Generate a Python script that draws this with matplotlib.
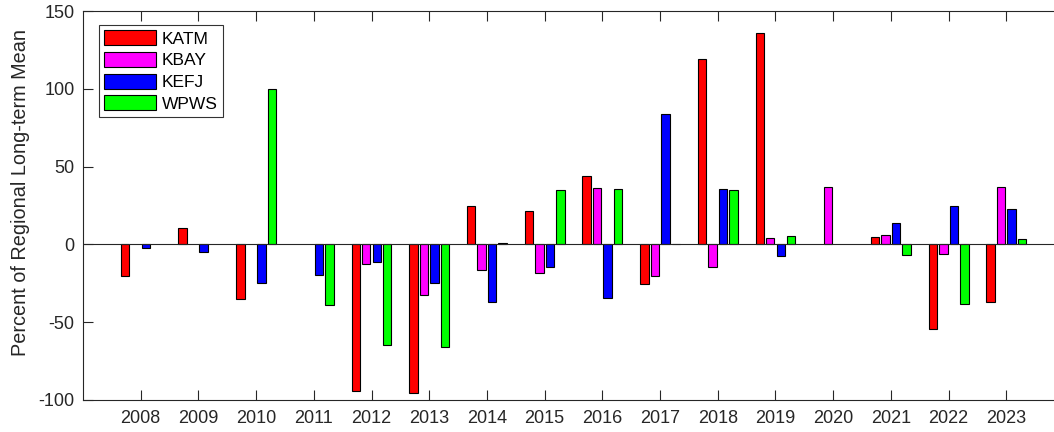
import numpy as np
import matplotlib
matplotlib.use("Agg")
import matplotlib.pyplot as plt

years = list(range(2008, 2024))
series_names = ["KATM", "KBAY", "KEFJ", "WPWS"]
nan = np.nan
katm = [-20.4, 10.3, -35.4, nan, -94.5, -95.4, 24.7, 21.3, 44.0, -25.6, 119.4, 135.7, nan, 5.0, -54.3, -37.2]
kbay = [nan, nan, nan, nan, -12.5, -32.2, -16.4, -18.5, 36.1, -20.0, -14.3, 4.4, 37.0, 5.9, -5.9, 37.0]
kefj = [-2.6, -4.7, -24.7, -19.5, -11.2, -24.7, -37.2, -14.5, -34.2, 83.9, 35.5, -7.4, nan, 13.6, 24.7, 22.8]
wpws = [nan, nan, 100.0, -38.9, -64.6, -65.7, 0.8, 34.8, 35.5, 0.3, 34.8, 5.7, nan, -6.6, -38.0, 3.5]
colors = ["#ff0000", "#ff00ff", "#0000ff", "#00ff00"]
yticks = [-100, -50, 0, 50, 100, 150]

plt.rcParams['font.family'] = ['Liberation Sans', 'DejaVu Sans']
plt.rcParams['axes.unicode_minus'] = False

W, H = 1054, 432
fig = plt.figure(figsize=(W / 100, H / 100), dpi=100)
left, right, bottom, top = 83, 1064, 400, 11
ax = fig.add_axes([left / W, 1 - bottom / H, (right - left) / W, (bottom - top) / H])

data = [katm, kbay, kefj, wpws]
n = len(data)
groupwidth = min(0.8, n / (n + 1.5))
step = groupwidth / n
bw = step * 0.8
x = np.array(years, dtype=float)
for i, (vals, c, name) in enumerate(zip(data, colors, series_names)):
    off = (i - (n - 1) / 2) * step
    ax.bar(x + off, vals, width=bw, color=c, edgecolor="black", linewidth=0.8, label=name, zorder=2)

ax.axhline(0, color="#262626", linewidth=0.8, zorder=3)
ax.set_xlim(2007, 2024)
ax.set_ylim(-100, 150)
ax.set_xticks(years)
ax.set_yticks(yticks)
ax.tick_params(direction="in", length=7, width=0.8, color="#262626", labelsize=13,
               top=True, right=True, labelcolor="#262626")
ax.tick_params(axis="x", pad=7)
ax.tick_params(axis="y", pad=6)
for s in ax.spines.values():
    s.set_color("#262626")
    s.set_linewidth(0.8)
ax.set_ylabel("Percent of Regional Long-term Mean", fontsize=14.3, color="#262626")
ax.yaxis.set_label_coords((30 - left) / (right - left), 1 - (192 - top) / (bottom - top))

leg = ax.legend(loc="upper left", bbox_to_anchor=((99 - left) / (right - left), 1 - (25 - top) / (bottom - top)),
                fontsize=12.5, frameon=True, fancybox=False, handlelength=3.0, handleheight=0.95,
                labelspacing=0.3, borderpad=0.3, handletextpad=0.3, borderaxespad=0)
leg.get_frame().set_edgecolor("black")
leg.get_frame().set_linewidth(0.8)

fig.savefig("out.png", dpi=100)
